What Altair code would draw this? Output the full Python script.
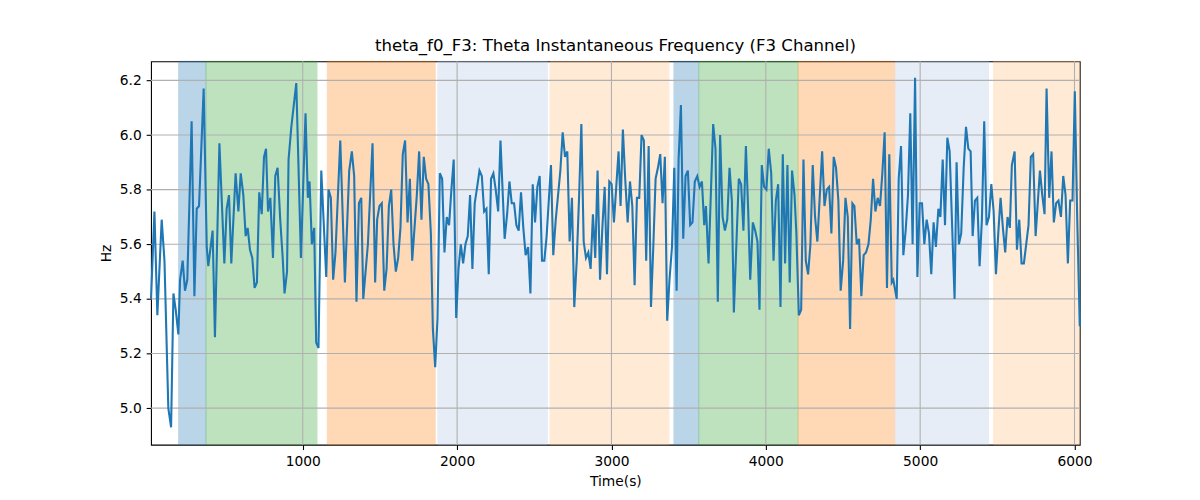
import pandas as pd
import altair as alt

# time axis (s) and instantaneous theta frequency (Hz)
times = [
    17, 39, 58, 86, 104, 129, 147, 162, 177, 194, 205, 222, 237, 252, 280, 298, 313, 328, 358, 378,
    388, 416, 431, 460, 492, 507, 522, 537, 565, 583, 598, 615, 630, 643, 658, 673, 688, 703, 718, 734,
    749, 762, 775, 790, 807, 822, 837, 854, 870, 882, 898, 908, 926, 958, 988, 1018, 1033, 1044, 1059, 1074,
    1087, 1102, 1120, 1152, 1167, 1182, 1197, 1212, 1243, 1273, 1301, 1318, 1333, 1348, 1364, 1379, 1392, 1422, 1452, 1469,
    1482, 1497, 1512, 1528, 1543, 1558, 1573, 1588, 1603, 1618, 1633, 1648, 1663, 1679, 1694, 1709, 1724, 1739, 1754, 1769,
    1784, 1799, 1814, 1830, 1843, 1858, 1873, 1888, 1903, 1918, 1933, 1948, 1963, 1978, 1994, 2009, 2024, 2039, 2054, 2069,
    2084, 2099, 2114, 2130, 2145, 2160, 2175, 2190, 2205, 2220, 2235, 2250, 2266, 2281, 2308, 2324, 2339, 2354, 2369, 2384,
    2399, 2414, 2429, 2444, 2460, 2475, 2490, 2505, 2520, 2535, 2550, 2565, 2580, 2608, 2623, 2639, 2654, 2669, 2684, 2699,
    2714, 2729, 2744, 2759, 2775, 2790, 2805, 2820, 2835, 2850, 2865, 2880, 2895, 2910, 2926, 2941, 2956, 2971, 2986, 3001,
    3016, 3031, 3046, 3059, 3074, 3089, 3105, 3120, 3135, 3150, 3165, 3180, 3195, 3210, 3225, 3241, 3256, 3271, 3286, 3301,
    3316, 3331, 3346, 3361, 3376, 3392, 3407, 3422, 3435, 3450, 3465, 3480, 3495, 3510, 3525, 3540, 3556, 3571, 3586, 3601,
    3612, 3629, 3659, 3674, 3689, 3704, 3720, 3735, 3750, 3765, 3780, 3793, 3825, 3840, 3855, 3871, 3886, 3899, 3916, 3931,
    3946, 3959, 3974, 3989, 4004, 4019, 4035, 4050, 4065, 4080, 4095, 4110, 4125, 4140, 4155, 4170, 4186, 4198, 4214, 4229,
    4244, 4259, 4274, 4289, 4304, 4319, 4334, 4350, 4365, 4380, 4395, 4410, 4425, 4440, 4455, 4470, 4485, 4501, 4516, 4531,
    4546, 4561, 4574, 4589, 4604, 4619, 4634, 4649, 4665, 4680, 4695, 4710, 4725, 4740, 4755, 4770, 4785, 4800, 4816, 4826,
    4848, 4861, 4876, 4891, 4906, 4921, 4936, 4951, 4967, 4982, 4997, 5012, 5027, 5042, 5057, 5072, 5087, 5102, 5118, 5131,
    5146, 5161, 5176, 5191, 5223, 5236, 5251, 5266, 5282, 5297, 5312, 5327, 5340, 5355, 5370, 5385, 5400, 5415, 5430, 5446,
    5461, 5476, 5491, 5506, 5521, 5536, 5551, 5566, 5581, 5594, 5612, 5627, 5642, 5657, 5672, 5687, 5702, 5717, 5732, 5748,
    5763, 5776, 5791, 5806, 5819, 5836, 5851, 5866, 5881, 5896, 5912, 5927, 5942, 5957, 5972, 5987, 6002, 6017, 6034,
]
freq = [
    5.40, 5.72, 5.34, 5.69, 5.54, 5.00, 4.93, 5.42, 5.36, 5.27, 5.47, 5.54, 5.43, 5.47, 6.05, 5.41, 5.73, 5.74, 6.17, 5.59,
    5.52, 5.65, 5.26, 5.97, 5.53, 5.73, 5.78, 5.53, 5.86, 5.72, 5.86, 5.78, 5.63, 5.66, 5.58, 5.55, 5.44, 5.46, 5.79, 5.71,
    5.92, 5.95, 5.72, 5.77, 5.55, 5.85, 5.88, 5.69, 5.55, 5.42, 5.50, 5.91, 6.03, 6.19, 5.55, 6.08, 5.77, 5.83, 5.60, 5.66,
    5.24, 5.22, 5.87, 5.48, 5.80, 5.77, 5.47, 5.57, 5.98, 5.46, 5.87, 5.94, 5.85, 5.39, 5.75, 5.77, 5.40, 5.60, 5.97, 5.46,
    5.69, 5.74, 5.75, 5.43, 5.51, 5.74, 5.80, 5.60, 5.50, 5.55, 5.66, 5.93, 5.98, 5.68, 5.84, 5.54, 5.66, 5.78, 5.94, 5.69,
    5.92, 5.84, 5.82, 5.64, 5.29, 5.15, 5.33, 5.86, 5.84, 5.57, 5.70, 5.67, 5.80, 5.91, 5.33, 5.51, 5.60, 5.53, 5.60, 5.63,
    5.78, 5.51, 5.75, 5.81, 5.87, 5.85, 5.72, 5.73, 5.49, 5.84, 5.86, 5.80, 5.72, 5.98, 5.62, 5.71, 5.83, 5.75, 5.75, 5.67,
    5.65, 5.79, 5.66, 5.56, 5.59, 5.42, 5.82, 5.68, 5.81, 5.85, 5.54, 5.54, 5.63, 5.89, 5.56, 5.69, 5.78, 5.87, 6.01, 5.92,
    5.94, 5.61, 5.77, 5.37, 5.54, 5.77, 6.04, 5.61, 5.55, 5.57, 5.51, 5.71, 5.55, 5.87, 5.47, 5.66, 5.81, 5.49, 5.83, 5.82,
    5.68, 5.81, 5.94, 5.74, 6.02, 5.84, 5.68, 5.83, 5.74, 5.45, 5.77, 5.77, 6.00, 5.98, 5.54, 5.96, 5.37, 5.59, 5.84, 5.88,
    5.93, 5.75, 5.92, 5.32, 5.47, 5.59, 5.88, 5.43, 5.91, 6.11, 5.62, 5.85, 5.87, 5.67, 5.68, 5.83, 5.85, 5.81, 5.83, 5.67,
    5.74, 5.53, 6.04, 5.95, 5.39, 6.00, 5.70, 5.65, 5.69, 5.88, 5.76, 5.35, 5.84, 5.82, 5.65, 5.96, 5.72, 5.47, 5.68, 5.65,
    5.61, 5.36, 5.89, 5.81, 5.80, 5.95, 5.86, 5.54, 5.76, 5.82, 5.37, 5.93, 5.53, 5.89, 5.46, 5.87, 5.78, 5.64, 5.34, 5.36,
    5.91, 5.54, 5.49, 5.60, 5.89, 5.70, 5.61, 5.78, 5.94, 5.74, 5.80, 5.81, 5.64, 5.92, 5.88, 5.76, 5.43, 5.54, 5.77, 5.70,
    5.29, 5.75, 5.74, 5.60, 5.62, 5.41, 5.56, 5.57, 5.60, 5.69, 5.84, 5.72, 5.77, 5.74, 5.86, 6.01, 5.44, 5.93, 5.46, 5.47,
    5.40, 5.84, 5.96, 5.56, 5.65, 5.78, 6.08, 5.60, 6.21, 5.48, 5.75, 5.75, 5.60, 5.69, 5.64, 5.49, 5.68, 5.59, 5.73, 5.70,
    5.91, 5.67, 5.99, 5.94, 5.40, 5.90, 5.60, 5.64, 5.88, 6.03, 5.95, 5.94, 5.63, 5.76, 5.77, 5.52, 5.69, 6.05, 5.67, 5.70,
    5.82, 5.72, 5.49, 5.64, 5.77, 5.66, 5.57, 5.70, 5.66, 5.89, 5.94, 5.58, 5.69, 5.53, 5.53, 5.60, 5.67, 5.92, 5.93, 5.63,
    5.76, 5.87, 5.78, 5.71, 6.17, 5.77, 5.94, 5.68, 5.75, 5.76, 5.70, 5.85, 5.78, 5.53, 5.76, 5.76, 6.16, 5.71, 5.30,
]

# shaded stages
span_start = [196, 373, 1159, 1875, 2602, 3405, 3566, 4209, 4840, 5476]
span_end = [373, 1092, 1858, 2585, 3372, 3566, 4209, 4835, 5443, 6034]
span_stage = ["s1", "s2", "s3", "s4", "s5", "s1", "s2", "s3", "s4", "s5"]
stages = ["s1", "s2", "s3", "s4", "s5"]
stage_colors = ["#1f77b4", "#2ca02c", "#ff7f0e", "#aec7e8", "#ffbb78"]

x_ticks = [1000, 2000, 3000, 4000, 5000, 6000]
y_ticks = [5.0, 5.2, 5.4, 5.6, 5.8, 6.0, 6.2]

df = pd.DataFrame({"t": times, "hz": freq})
spans = pd.DataFrame({"start": span_start, "end": span_end, "stage": span_stage})
xgrid = pd.DataFrame({"t": x_ticks})
ygrid = pd.DataFrame({"hz": y_ticks})

xscale = alt.Scale(domain=[17, 6034], nice=False, zero=False)
yscale = alt.Scale(domain=[4.866, 6.27], nice=False, zero=False)
xaxis = alt.Axis(values=x_ticks, title="Time(s)", grid=False, format="d")
yaxis = alt.Axis(values=y_ticks, title="Hz", grid=False, format=".1f")

span_layer = alt.Chart(spans).mark_rect(opacity=0.3, strokeWidth=1).encode(
    x=alt.X("start:Q", scale=xscale, axis=xaxis),
    x2="end:Q",
    color=alt.Color("stage:N", scale=alt.Scale(domain=stages, range=stage_colors), legend=None),
    stroke=alt.Stroke("stage:N", scale=alt.Scale(domain=stages, range=stage_colors), legend=None),
)

vgrid = alt.Chart(xgrid).mark_rule(color="#b0b0b0", strokeWidth=1.1).encode(
    x=alt.X("t:Q", scale=xscale, axis=xaxis)
)
hgrid = alt.Chart(ygrid).mark_rule(color="#b0b0b0", strokeWidth=1.1).encode(
    y=alt.Y("hz:Q", scale=yscale, axis=yaxis)
)

line = alt.Chart(df).mark_line(color="#1f77b4", strokeWidth=2.1).encode(
    x=alt.X("t:Q", scale=xscale, axis=xaxis),
    y=alt.Y("hz:Q", scale=yscale, axis=yaxis),
)

chart = alt.layer(span_layer, vgrid, hgrid, line).properties(
    width=935,
    height=386,
    padding={"left": 144, "top": 52, "right": 113, "bottom": 54},
    autosize=alt.AutoSizeParams(type="none"),
    title=alt.Title(
        "theta_f0_F3: Theta Instantaneous Frequency (F3 Channel)",
        font="DejaVu Sans", fontSize=16.7, fontWeight="normal", color="black",
        anchor="middle", offset=6,
    ),
).configure_view(
    stroke="black", strokeWidth=1.1
).configure_axis(
    domain=False,
    tickColor="black", tickSize=4.9, tickWidth=1.1,
    labelFont="DejaVu Sans", labelFontSize=13.9, labelColor="black", labelPadding=4.9,
    titleFont="DejaVu Sans", titleFontSize=13.9, titleFontWeight="normal", titleColor="black",
    titlePadding=6,
)

chart.save("out.html", embed_options={"renderer": "svg", "actions": False})
